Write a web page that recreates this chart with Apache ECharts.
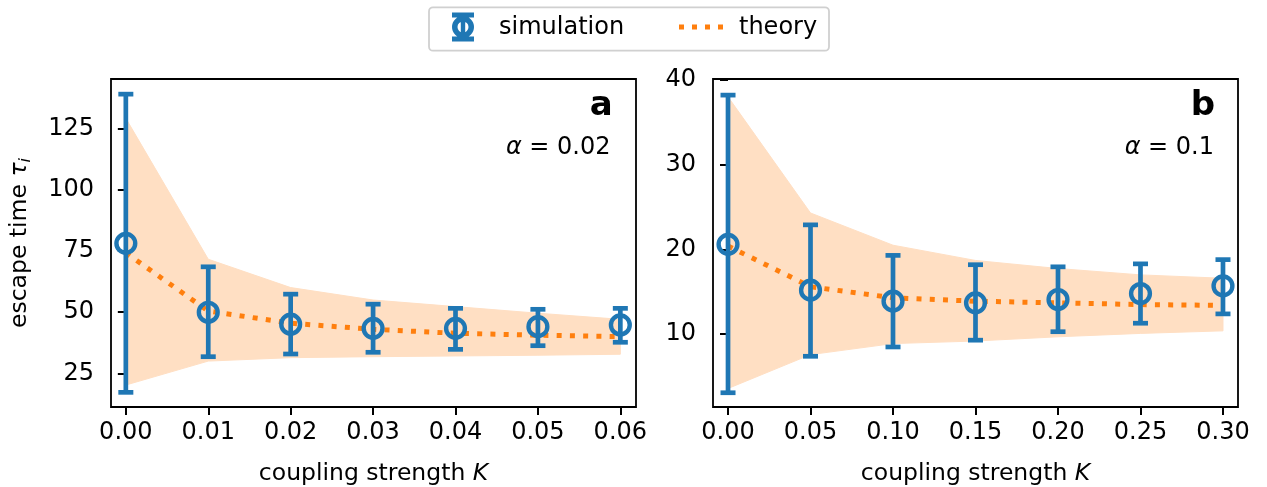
<!DOCTYPE html>
<html>
<head>
<meta charset="utf-8">
<title>escape time vs coupling strength</title>
<script src="https://cdn.jsdelivr.net/npm/echarts@6.0.0/dist/echarts.min.js"></script>
<style>
  html, body { margin: 0; padding: 0; background: #fff; }
  #chart { width: 1267px; height: 487px; }
</style>
</head>
<body>
<div id="chart"></div>
<script>
// panel a, alpha = 0.02
var kA = [0, 0.01, 0.02, 0.03, 0.04, 0.05, 0.06];
var simA = [78.2, 50.0, 45.1, 43.4, 43.4, 44.1, 44.8];
var errLoA = [17.2, 31.8, 32.9, 33.6, 34.8, 36.3, 37.7];
var errHiA = [139.3, 68.6, 57.4, 53.3, 51.6, 51.2, 51.6];
var theoryA = [74.3, 50.5, 45.5, 43.0, 41.4, 40.6, 40.0];
var bandLoA = [20.2, 30.0, 31.4, 31.8, 32.1, 32.4, 32.8];
var bandHiA = [129.4, 71.7, 60.1, 55.0, 52.3, 49.6, 47.1];
var xTicksA = [0, 0.01, 0.02, 0.03, 0.04, 0.05, 0.06];
var yTicksA = [25, 50, 75, 100, 125];

// panel b, alpha = 0.1
var kB = [0, 0.05, 0.10, 0.15, 0.20, 0.25, 0.30];
var simB = [20.6, 15.2, 13.9, 13.7, 14.1, 14.8, 15.7];
var errLoB = [3.1, 7.4, 8.5, 9.3, 10.3, 11.3, 12.4];
var errHiB = [38.2, 22.9, 19.3, 18.2, 17.95, 18.3, 18.8];
var theoryB = [20.4, 15.6, 14.3, 13.9, 13.7, 13.5, 13.4];
var bandLoB = [3.6, 7.6, 8.9, 9.2, 9.7, 10.1, 10.4];
var bandHiB = [38.0, 24.3, 20.5, 18.7, 17.75, 17.0, 16.6];
var xTicksB = [0, 0.05, 0.10, 0.15, 0.20, 0.25, 0.30];
var yTicksB = [10, 20, 30, 40];

var BLUE = '#1f77b4';
var ORANGE = '#ff7f0e';
var BAND = '#ffdfc3';
var FONT = 'DejaVu Sans';
var FS = 24;

var dom = document.getElementById('chart');
var myChart = echarts.init(dom);

// error bar + hollow circle marker
function errRender(params, api) {
    var x = api.value(0);
    var pLo = api.coord([x, api.value(1)]);
    var pHi = api.coord([x, api.value(2)]);
    var pM = api.coord([x, api.value(3)]);
    var st = { stroke: BLUE, lineWidth: 4.7, fill: null };
    return {
        type: 'group',
        children: [
            { type: 'line', shape: { x1: pLo[0], y1: pLo[1], x2: pHi[0], y2: pHi[1] }, style: st },
            { type: 'line', shape: { x1: pHi[0] - 7.5, y1: pHi[1], x2: pHi[0] + 7.5, y2: pHi[1] }, style: st },
            { type: 'line', shape: { x1: pLo[0] - 7.5, y1: pLo[1], x2: pLo[0] + 7.5, y2: pLo[1] }, style: st },
            { type: 'circle', shape: { cx: pM[0], cy: pM[1], r: 9.4 }, style: { stroke: BLUE, lineWidth: 4.4, fill: null } }
        ]
    };
}

// shaded band: one polygon drawn from all items (upper edge forward, lower edge back)
function bandRender(params, api) {
    if (params.dataIndexInside !== 0) return null;
    var n = params.dataInsideLength;
    var top = [], bot = [];
    for (var i = 0; i < n; i++) {
        var x = api.value(0, i);
        top.push(api.coord([x, api.value(2, i)]));
        bot.unshift(api.coord([x, api.value(1, i)]));
    }
    return {
        type: 'polygon',
        shape: { points: top.concat(bot) },
        style: { fill: BAND, stroke: BAND, lineWidth: 1 }
    };
}

function pairs(xs, ys) {
    return xs.map(function (x, i) { return [x, ys[i]]; });
}
function bandData(xs, lo, hi) {
    return xs.map(function (x, i) { return [x, lo[i], hi[i]]; });
}
function errData(xs, lo, hi, mid) {
    return xs.map(function (x, i) { return [x, lo[i], hi[i], mid[i]]; });
}

function xAxisOf(idx, min, max, ticks) {
    return {
        type: 'value', gridIndex: idx, min: min, max: max,
        name: 'coupling strength {k|K}',
        nameLocation: 'middle', nameGap: 55,
        nameTextStyle: { fontFamily: FONT, fontSize: 23.5, color: '#000',
            rich: { k: { fontFamily: FONT, fontSize: 23.5, fontStyle: 'italic', color: '#000' } } },
        splitLine: { show: false },
        axisLine: { show: false },
        axisTick: { show: true, length: 8, inside: false, customValues: ticks,
            lineStyle: { color: '#000', width: 2 } },
        axisLabel: { customValues: ticks, margin: 14, fontFamily: FONT, fontSize: FS, color: '#000',
            formatter: function (v) { return v.toFixed(2); } }
    };
}

function yAxisOf(idx, min, max, ticks, name) {
    return {
        type: 'value', gridIndex: idx, min: min, max: max,
        name: name, nameLocation: 'middle', nameGap: 77, nameRotate: 90,
        nameTextStyle: { fontFamily: FONT, fontSize: 23.5, color: '#000',
            rich: {
                t: { fontFamily: FONT, fontSize: 23.5, fontStyle: 'italic', color: '#000' },
                s: { fontFamily: FONT, fontSize: 16, fontStyle: 'italic', color: '#000', padding: [12, 0, 0, 0] }
            } },
        splitLine: { show: false },
        axisLine: { show: false },
        axisTick: { show: true, length: 8, inside: false, customValues: ticks,
            lineStyle: { color: '#000', width: 2 } },
        axisLabel: { customValues: ticks, margin: 17, fontFamily: FONT, fontSize: FS, color: '#000' }
    };
}

function panelSeries(idx, ks, sim, lo, hi, theory, bLo, bHi) {
    return [
        { type: 'custom', xAxisIndex: idx, yAxisIndex: idx, data: bandData(ks, bLo, bHi),
          renderItem: bandRender, clip: false, silent: true, z: 1 },
        { type: 'line', name: 'theory', xAxisIndex: idx, yAxisIndex: idx, data: pairs(ks, theory),
          symbol: 'none', showSymbol: false, lineStyle: { color: ORANGE, width: 5, type: [5, 8.25], cap: 'butt' },
          itemStyle: { color: ORANGE }, z: 2 },
        { type: 'custom', name: 'simulation', xAxisIndex: idx, yAxisIndex: idx,
          data: errData(ks, lo, hi, sim), renderItem: errRender, clip: false,
          itemStyle: { color: BLUE }, z: 3 }
    ];
}

var simIcon = 'path://M0 0H22V5H0Z M0 24H22V29H0Z M8.8 0H13.2V29H8.8Z ' +
    'M0 14.5A11 11 0 1 1 22 14.5A11 11 0 1 1 0 14.5Z M5.5 14.5A5.5 5.5 0 1 0 16.5 14.5A5.5 5.5 0 1 0 5.5 14.5Z';
var dotIcon = 'path://M0 0H5V5H0Z M13 0H18V5H13Z M26 0H31V5H26Z M39 0H44V5H39Z';

// legend icons come from the legend component, the labels are placed as text beside them
function noText() { return ''; }

var option = {
    animation: false,
    backgroundColor: '#fff',
    textStyle: { fontFamily: FONT },
    grid: [
        { left: 111, top: 79, width: 525, height: 328, show: true, borderColor: '#000', borderWidth: 1.8,
          backgroundColor: 'transparent', outerBoundsMode: 'none', containLabel: false },
        { left: 713, top: 79, width: 525, height: 328, show: true, borderColor: '#000', borderWidth: 1.8,
          backgroundColor: 'transparent', outerBoundsMode: 'none', containLabel: false }
    ],
    xAxis: [
        xAxisOf(0, -0.0018, 0.0619, xTicksA),
        xAxisOf(1, -0.0091, 0.3091, xTicksB)
    ],
    yAxis: [
        yAxisOf(0, 11.2, 145.5, yTicksA, 'escape time {t|τ}{s|i}'),
        yAxisOf(1, 1.42, 40.1, yTicksB, '')
    ],
    legend: [
        { data: [{ name: 'simulation', icon: simIcon }], left: 452, top: 12.5, padding: 0,
          itemWidth: 22, itemHeight: 29, selectedMode: false, formatter: noText },
        { data: [{ name: 'theory', icon: dotIcon, itemStyle: { color: ORANGE } }], left: 679, top: 12.5, padding: 0,
          itemWidth: 44, itemHeight: 29, selectedMode: false, formatter: noText }
    ],
    graphic: [
        { type: 'rect', z: -1, shape: { x: 429, y: 7.3, width: 400, height: 43.4, r: 4 },
          style: { fill: '#fff', stroke: '#d0d0d0', lineWidth: 1.8 } },
        { type: 'text', x: 499, y: 27.3, style: { text: 'simulation', fontFamily: FONT, fontSize: FS,
          fill: '#000', align: 'left', verticalAlign: 'middle' } },
        { type: 'text', x: 739, y: 27.3, style: { text: 'theory', fontFamily: FONT, fontSize: FS,
          fill: '#000', align: 'left', verticalAlign: 'middle' } },
        { type: 'text', x: 612.7, y: 106.3, style: { text: 'a', fontFamily: FONT, fontSize: 34, fontWeight: 'bold',
          fill: '#000', align: 'right', verticalAlign: 'middle' } },
        { type: 'text', x: 610.5, y: 148, style: { text: '{i|α} = 0.02', fontFamily: FONT, fontSize: FS,
          fill: '#000', align: 'right', verticalAlign: 'middle',
          rich: { i: { fontFamily: FONT, fontSize: FS, fontStyle: 'italic', fill: '#000' } } } },
        { type: 'text', x: 1215, y: 106.3, style: { text: 'b', fontFamily: FONT, fontSize: 34, fontWeight: 'bold',
          fill: '#000', align: 'right', verticalAlign: 'middle' } },
        { type: 'text', x: 1214, y: 148, style: { text: '{i|α} = 0.1', fontFamily: FONT, fontSize: FS,
          fill: '#000', align: 'right', verticalAlign: 'middle',
          rich: { i: { fontFamily: FONT, fontSize: FS, fontStyle: 'italic', fill: '#000' } } } }
    ],
    series: []
        .concat(panelSeries(0, kA, simA, errLoA, errHiA, theoryA, bandLoA, bandHiA))
        .concat(panelSeries(1, kB, simB, errLoB, errHiB, theoryB, bandLoB, bandHiB))
};

myChart.setOption(option);
</script>
</body>
</html>
